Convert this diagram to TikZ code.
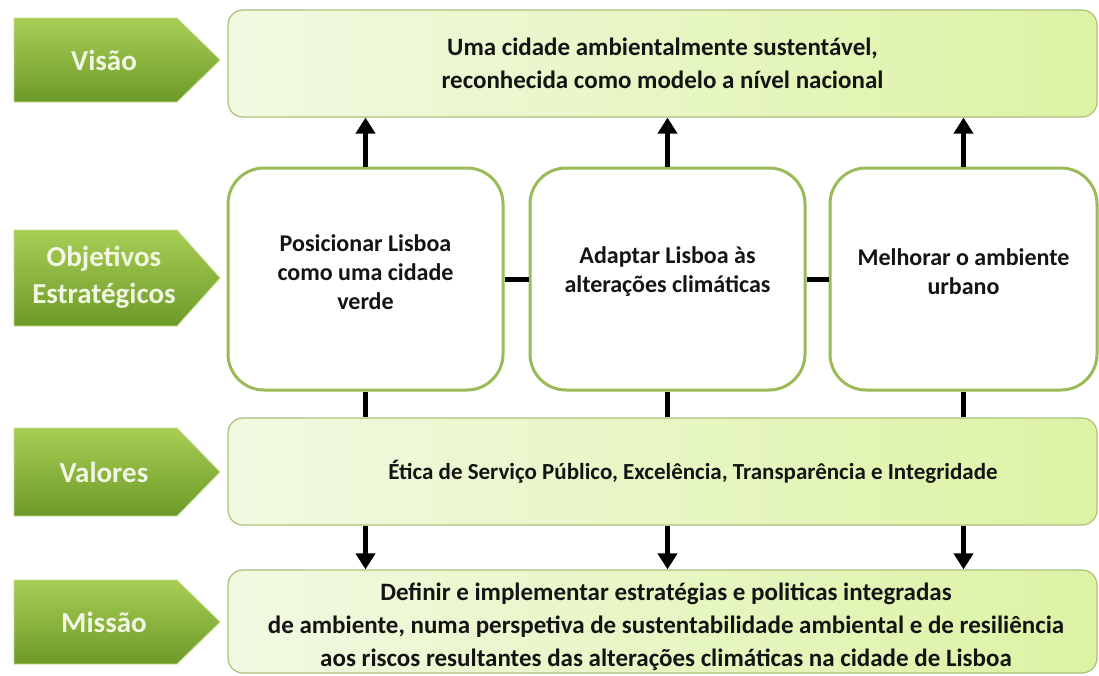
\documentclass[tikz,border=0pt]{standalone}
\usepackage{fontspec}
\setmainfont{Carlito}
\usetikzlibrary{arrows.meta}
\definecolor{lblTop}{HTML}{A8CE55}
\definecolor{lblBot}{HTML}{6C9A28}
\definecolor{lblTxt}{HTML}{F2F7E4}
\definecolor{boxL}{HTML}{F2F9E2}
\definecolor{boxR}{HTML}{DCF3A4}
\definecolor{boxEdge}{HTML}{A9BF7A}
\definecolor{objEdge}{HTML}{9BBB59}
\definecolor{txt}{HTML}{141414}
\tikzset{
  lbl/.style={top color=lblTop, bottom color=lblBot, draw=lblTop!70!white, line width=0.8pt},
  lbltext/.style={text=lblTxt, font=\fontsize{29}{37}\selectfont\bfseries, align=center},
  wide/.style={draw=boxEdge, line width=1.2pt, rounded corners=15pt, left color=boxL, right color=boxR,
    text=txt, font=\fontsize{25}{33}\selectfont\bfseries, align=center, inner sep=0pt},
  widetext/.style={text=txt, font=\fontsize{25}{33}\selectfont\bfseries, align=center, inner sep=0pt},
  obj/.style={draw=objEdge, line width=3pt, rounded corners=36pt, fill=white},
  objtext/.style={text=txt, font=\fontsize{24}{29}\selectfont\bfseries, align=center},
  conn/.style={line width=5pt, black},
  arr/.style={conn, -{Triangle[width=19pt,length=16pt]}}
}
\begin{document}
\begin{tikzpicture}[x=1pt,y=-1pt]
\useasboundingbox (0,0) rectangle (1099,675);
\clip (0,0) rectangle (1099,675);
\fill[white] (0,0) rectangle (1099,675);

% labels
\path[lbl] (14,18) -- (177,18) -- (220,60) -- (177,102) -- (14,102) -- cycle;
\node[lbltext] (lvis) at (104,60) {Visão};
\path[lbl] (14,230) -- (177,230) -- (220,278) -- (177,326) -- (14,326) -- cycle;
\node[lbltext] (lobj) at (104,277) {Objetivos\\Estratégicos};
\path[lbl] (14,428) -- (177,428) -- (220,472) -- (177,516) -- (14,516) -- cycle;
\node[lbltext] (lval) at (104,472) {Valores};
\path[lbl] (14,580) -- (177,580) -- (220,622) -- (177,664) -- (14,664) -- cycle;
\node[lbltext] (lmis) at (104,622) {Missão};

% boxes
\node[wide, minimum width=869pt, minimum height=107pt] (vis) at (662.5,63.5)
  {Uma cidade ambientalmente sustentável,\\reconhecida como modelo a nível nacional};
\node[obj, minimum width=275pt, minimum height=222pt] (o1) at (365.5,279) {};
\node[obj, minimum width=275pt, minimum height=222pt] (o2) at (667.5,279) {};
\node[obj, minimum width=267pt, minimum height=222pt] (o3) at (963.5,279) {};
\node[objtext] (t1) at (365.5,272) {Posicionar Lisboa\\como uma cidade\\verde};
\node[objtext] (t2) at (667.5,272) {Adaptar Lisboa às\\alterações climáticas};
\node[objtext] (t3) at (963.5,272) {Melhorar o ambiente\\urbano};
\node[wide, minimum width=869pt, minimum height=107pt] (val) at (662.5,471.5) {};
\node[widetext, font=\fontsize{23}{30}\selectfont\bfseries] (valt) at (693,472)
  {Ética de Serviço Público, Excelência, Transparência  e Integridade};
\node[wide, minimum width=869pt, minimum height=103pt] (mis) at (662.5,621.5) {};
\node[widetext] (mist) at (666,627)
  {Definir e implementar estratégias e politicas  integradas\\de ambiente, numa perspetiva de sustentabilidade  ambiental e de resiliência\\aos riscos resultantes das alterações climáticas na cidade de Lisboa};

% connectors
\foreach \o in {o1,o2,o3} {
  \draw[arr] (\o.north) -- (\o.north |- vis.south);
  \draw[conn] (\o.south) -- (\o.south |- val.north);
  \draw[arr] (\o.south |- val.south) -- (\o.south |- mis.north);
}
\draw[conn] (o1.east) -- (o2.west);
\draw[conn] (o2.east) -- (o3.west);
\end{tikzpicture}
\end{document}
